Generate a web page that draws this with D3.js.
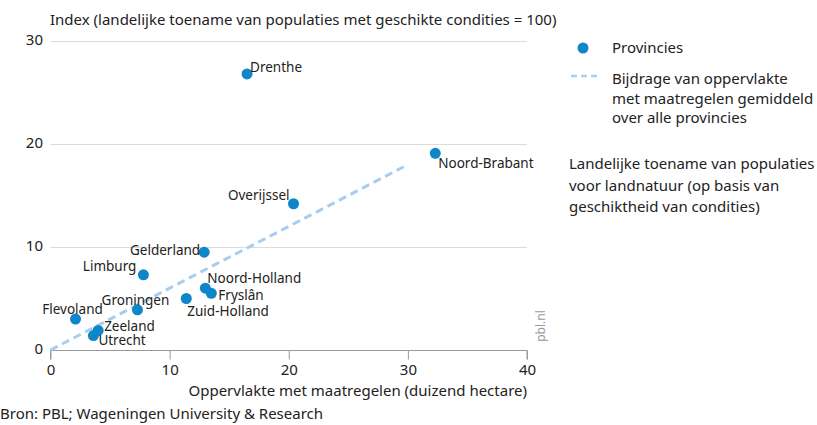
<!DOCTYPE html>
<html>
<head>
<meta charset="utf-8">
<script src="https://cdn.jsdelivr.net/npm/d3@7"></script>
<style>
  body { margin: 0; background: #fff; }
  text { font-family: "Noto Sans", "Open Sans", sans-serif; fill: #222; }
</style>
</head>
<body>
<svg id="chart" width="817" height="425"></svg>
<script>
// data
const provinces = ["Drenthe", "Noord-Brabant", "Overijssel", "Gelderland", "Limburg",
  "Noord-Holland", "Fryslân", "Zuid-Holland", "Groningen", "Flevoland", "Zeeland", "Utrecht"];
const area = [16.5, 32.3, 20.4, 12.9, 7.8, 13.0, 13.5, 11.4, 7.3, 2.1, 4.0, 3.6];   // duizend hectare
const index = [26.8, 19.1, 14.2, 9.5, 7.3, 6.0, 5.5, 5.0, 3.9, 3.0, 1.9, 1.4];
const avgLineX = [0, 30];
const avgLineY = [0, 18];
const xTicks = [0, 10, 20, 30, 40];
const yTicks = [0, 10, 20, 30];

// label placement (dx, dy, anchor) - layout only
const labelPlace = {
  "Drenthe": [3, -7, "start"],
  "Noord-Brabant": [3, 10, "start"],
  "Overijssel": [-4, -8, "end"],
  "Gelderland": [-4, -2, "end"],
  "Limburg": [-7, -9, "end"],
  "Noord-Holland": [2, -10, "start"],
  "Fryslân": [7, 1.5, "start"],
  "Zuid-Holland": [1, 13, "start"],
  "Groningen": [-2, -10, "middle"],
  "Flevoland": [-3, -10, "middle"],
  "Zeeland": [6, -4.5, "start"],
  "Utrecht": [5, 5, "start"]
};

const svg = d3.select("#chart");
const x = d3.scaleLinear().domain([0, 40]).range([50.5, 527]);
const y = d3.scaleLinear().domain([0, 30]).range([350, 41]);

const blue = "#0f86c9";
const lightBlue = "#a8cdee";
const fs = 13.5;   // point labels
const fb = 15;     // other texts

// y title
svg.append("text").attr("x", 50).attr("y", 25).style("font-size", fb + "px")
  .text("Index (landelijke toename van populaties met geschikte condities = 100)");

// gridlines
svg.append("g").selectAll("line").data(yTicks.filter(d => d > 0)).join("line")
  .attr("x1", x(0)).attr("x2", x(40))
  .attr("y1", d => y(d) + 0.5).attr("y2", d => y(d) + 0.5)
  .attr("stroke", "#dcdcdc").attr("stroke-width", 1);

// y tick labels
svg.append("g").selectAll("text").data(yTicks).join("text")
  .attr("x", 43).attr("y", d => y(d) - 1).attr("dy", "0.35em")
  .attr("text-anchor", "end").style("font-size", fb + "px")
  .text(d => d);

// x axis
const xAxis = d3.axisBottom(x).tickValues(xTicks).tickSize(9).tickPadding(5).tickFormat(d => d);
const gx = svg.append("g").attr("transform", `translate(0,${y(0) + 0.5})`).call(xAxis);
gx.select(".domain").attr("stroke", "#999").attr("d", `M${x(0)},9V0H${x(40)}V9`);
gx.selectAll(".tick line").attr("stroke", "#999");
gx.selectAll(".tick text").style("font-size", fb + "px").attr("fill", "#222")
  .style("font-family", '"Noto Sans", sans-serif');

svg.append("text").attr("x", 527).attr("y", 396).attr("text-anchor", "end")
  .style("font-size", fb + "px").text("Oppervlakte met maatregelen (duizend hectare)");

// average line
svg.append("line")
  .attr("x1", x(avgLineX[0])).attr("y1", y(avgLineY[0]))
  .attr("x2", x(avgLineX[1])).attr("y2", y(avgLineY[1]))
  .attr("stroke", lightBlue).attr("stroke-width", 3).attr("stroke-dasharray", "8,5");

// points
const pts = provinces.map((p, i) => ({ name: p, x: area[i], y: index[i] }));
svg.append("g").selectAll("circle").data(pts).join("circle")
  .attr("cx", d => x(d.x)).attr("cy", d => y(d.y)).attr("r", 5.5)
  .attr("fill", blue);

svg.append("g").selectAll("text").data(pts).join("text")
  .attr("x", d => x(d.x) + labelPlace[d.name][0])
  .attr("y", d => y(d.y) + labelPlace[d.name][1])
  .attr("dy", "0.35em")
  .attr("text-anchor", d => labelPlace[d.name][2])
  .style("font-size", fs + "px")
  .text(d => d.name);

// legend
svg.append("circle").attr("cx", 583).attr("cy", 48).attr("r", 5.5).attr("fill", blue);
svg.append("text").attr("x", 612).attr("y", 48).attr("dy", "0.35em").style("font-size", fb + "px").text("Provincies");
svg.append("line").attr("x1", 571).attr("x2", 598).attr("y1", 76).attr("y2", 76)
  .attr("stroke", lightBlue).attr("stroke-width", 2.5).attr("stroke-dasharray", "6,4");
["Bijdrage van oppervlakte", "met maatregelen gemiddeld", "over alle provincies"].forEach((t, i) => {
  svg.append("text").attr("x", 612).attr("y", 79 + i * 19.5).attr("dy", "0.35em")
    .style("font-size", fb + "px").text(t);
});
["Landelijke toename van populaties", "voor landnatuur (op basis van", "geschiktheid van condities)"].forEach((t, i) => {
  svg.append("text").attr("x", 569).attr("y", 164 + i * 21.5).attr("dy", "0.35em")
    .style("font-size", fb + "px").text(t);
});

// source + watermark
svg.append("text").attr("x", 0).attr("y", 419).style("font-size", fb + "px").text("Bron: PBL; Wageningen University & Research");
svg.append("text").attr("transform", "translate(545,326) rotate(-90)")
  .attr("text-anchor", "middle").style("font-size", "12px").style("fill", "#9a9a9a").text("pbl.nl");
</script>
</body>
</html>
